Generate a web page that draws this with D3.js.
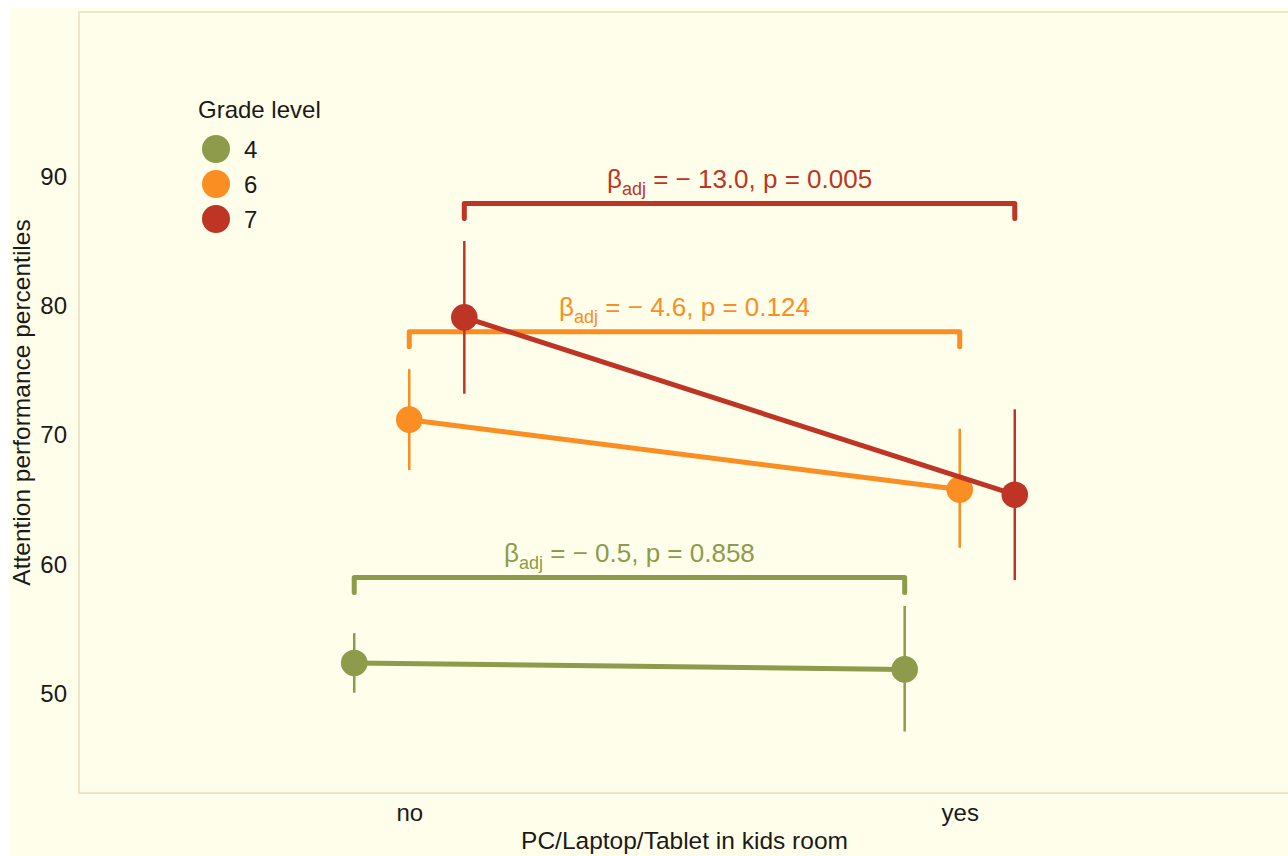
<!DOCTYPE html>
<html>
<head>
<meta charset="utf-8">
<script src="https://cdn.jsdelivr.net/npm/d3@7"></script>
<style>
  body { margin: 0; background: #ffffff; }
  text { font-family: "Liberation Sans", Arial, sans-serif; }
</style>
</head>
<body>
<div id="chart"></div>
<script>
const width = 1288;
const height = 856;

// data
const categories = ["no", "yes"];
const grades = ["4", "6", "7"];
const colors = ["#8d9b4a", "#fa8e22", "#be3526"];
const means = [[52.4, 51.9], [71.2, 65.8], [79.1, 65.4]];
const lower = [[50.1, 47.1], [67.3, 61.3], [73.2, 58.8]];
const upper = [[54.7, 56.8], [75.1, 70.5], [85.0, 72.0]];
const bracketY = [59.0, 78.0, 87.9];
const betas = ["− 0.5", "− 4.6", "− 13.0"];
const pvals = ["0.858", "0.124", "0.005"];
const yTicks = [50, 60, 70, 80, 90];

const margin = { left: 79, top: 12, bottom: 793, right: 1290 };

const svg = d3.select("#chart")
  .append("svg")
  .attr("width", width)
  .attr("height", height);

svg.append("rect")
  .attr("x", 10).attr("y", 8)
  .attr("width", width).attr("height", height)
  .attr("fill", "#fffeea");

const x = d3.scaleLinear().domain([0.4, 2.6]).range([margin.left, margin.right]);
const y = d3.scaleLinear().domain([42.35, 102.7]).range([margin.bottom, margin.top]);
const dodge = 0.1;
const xpos = (ci, gi) => x(ci + 1 + (gi - 1) * dodge);

// panel border
svg.append("rect")
  .attr("x", margin.left).attr("y", margin.top)
  .attr("width", margin.right - margin.left)
  .attr("height", margin.bottom - margin.top)
  .attr("fill", "none")
  .attr("stroke", "#efe5c9")
  .attr("stroke-width", 2);

// y axis labels
const yAxis = d3.axisLeft(y).tickValues(yTicks).tickSize(0).tickPadding(12);
const ya = svg.append("g").attr("transform", `translate(${margin.left},0)`).call(yAxis);
ya.select(".domain").remove();
ya.selectAll("text").attr("font-size", 24).attr("fill", "#1a1a1a")
  .style("font-family", "'Liberation Sans', Arial, sans-serif");

// x axis labels
const xa = svg.append("g").attr("transform", `translate(0,${margin.bottom})`)
  .call(d3.axisBottom(x).tickValues([1, 2]).tickFormat(d => categories[d - 1]).tickSize(0).tickPadding(11));
xa.select(".domain").remove();
xa.selectAll("text").attr("font-size", 24).attr("fill", "#1a1a1a")
  .style("font-family", "'Liberation Sans', Arial, sans-serif");

// axis titles
svg.append("text")
  .attr("x", (margin.left + margin.right) / 2)
  .attr("y", 849)
  .attr("text-anchor", "middle")
  .attr("font-size", 24.5)
  .attr("fill", "#1a1a1a")
  .text("PC/Laptop/Tablet in kids room");

svg.append("text")
  .attr("transform", `translate(30,${(margin.top + margin.bottom) / 2}) rotate(-90)`)
  .attr("text-anchor", "middle")
  .attr("font-size", 24.5)
  .attr("fill", "#1a1a1a")
  .text("Attention performance percentiles");

// brackets + annotations
grades.forEach((g, gi) => {
  const x1 = xpos(0, gi), x2 = xpos(1, gi);
  const yb = y(bracketY[gi]);
  svg.append("path")
    .attr("d", `M${x1},${yb + 15}V${yb}H${x2}V${yb + 15}`)
    .attr("fill", "none")
    .attr("stroke", colors[gi])
    .attr("stroke-width", 5)
    .attr("stroke-linecap", "round")
    .attr("stroke-linejoin", "round");

  const t = svg.append("text")
    .attr("x", (x1 + x2) / 2)
    .attr("y", yb - 16)
    .attr("text-anchor", "middle")
    .attr("font-size", 26)
    .attr("fill", colors[gi]);
  t.append("tspan").text("β");
  t.append("tspan").attr("font-size", 18).attr("dy", 7).text("adj");
  t.append("tspan").attr("dy", -7).text(` = ${betas[gi]}, p = ${pvals[gi]}`);
});

// error bars, lines, points
grades.forEach((g, gi) => {
  categories.forEach((c, ci) => {
    svg.append("line")
      .attr("x1", xpos(ci, gi)).attr("x2", xpos(ci, gi))
      .attr("y1", y(lower[gi][ci])).attr("y2", y(upper[gi][ci]))
      .attr("stroke", colors[gi])
      .attr("stroke-width", 2.5);
  });

  svg.append("path")
    .datum(means[gi])
    .attr("d", d3.line().x((d, ci) => xpos(ci, gi)).y(d => y(d)))
    .attr("fill", "none")
    .attr("stroke", colors[gi])
    .attr("stroke-width", 5);

  svg.selectAll(null)
    .data(means[gi])
    .enter()
    .append("circle")
    .attr("cx", (d, ci) => xpos(ci, gi))
    .attr("cy", d => y(d))
    .attr("r", 13.3)
    .attr("fill", colors[gi]);
});

// legend
const legend = svg.append("g").attr("transform", "translate(198,118)");
legend.append("text")
  .attr("font-size", 24)
  .attr("fill", "#1a1a1a")
  .text("Grade level");
grades.forEach((g, gi) => {
  const row = legend.append("g").attr("transform", `translate(0,${31 + gi * 35})`);
  row.append("circle").attr("cx", 18).attr("cy", 0).attr("r", 14).attr("fill", colors[gi]);
  row.append("text")
    .attr("x", 46).attr("y", 9)
    .attr("font-size", 24)
    .attr("fill", "#1a1a1a")
    .text(g);
});
</script>
</body>
</html>
